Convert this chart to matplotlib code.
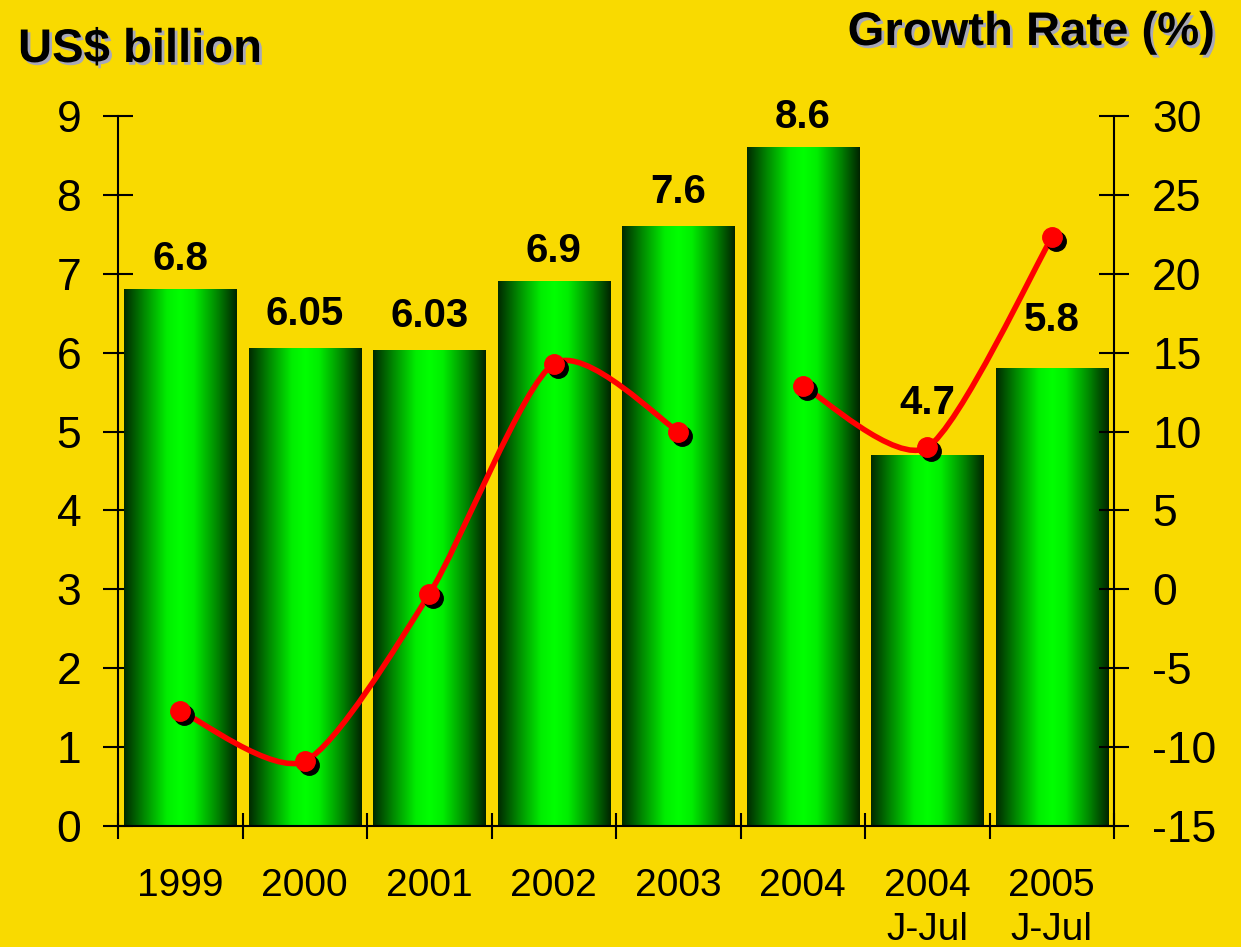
import numpy as np
import matplotlib
matplotlib.use('Agg')
import matplotlib.pyplot as plt
import matplotlib.patheffects as pe
import matplotlib.transforms as mtransforms
from matplotlib.colors import LinearSegmentedColormap
from matplotlib.path import Path
from matplotlib.patches import PathPatch

plt.rcParams['font.family'] = ['Liberation Sans', 'DejaVu Sans']
plt.rcParams['axes.unicode_minus'] = False

# dados
categories = ['1999', '2000', '2001', '2002', '2003', '2004', '2004\nJ-Jul', '2005\nJ-Jul']
values = [6.8, 6.05, 6.03, 6.9, 7.6, 8.6, 4.7, 5.8]
value_labels = ['6.8', '6.05', '6.03', '6.9', '7.6', '8.6', '4.7', '5.8']
growth = [-7.7, -10.9, -0.3, 14.3, 10.0, 12.9, 9.0, 22.3]
# linha quebrada entre 2003 e 2004
growth_segments = [(0, 5), (5, 8)]

bg = '#F9DA00'
label_offsets = [14, 17, 17, 14, 17, 14, 30, 27]


def smooth_path(xs, ys, k=8.0):
    # curva tipo Catmull-Rom passando pelos pontos
    pts = np.column_stack([xs, ys]).astype(float)
    n = len(pts)
    verts = [pts[0]]
    codes = [Path.MOVETO]
    for i in range(n - 1):
        p0 = pts[i - 1] if i > 0 else pts[i]
        p1 = pts[i]
        p2 = pts[i + 1]
        p3 = pts[i + 2] if i + 2 < n else pts[i + 1]
        verts += [p1 + (p2 - p0) / k, p2 - (p3 - p1) / k, p2]
        codes += [Path.CURVE4] * 3
    return Path(verts, codes)


fig = plt.figure(figsize=(12.41, 9.47), dpi=100, facecolor=bg)
ax = fig.add_axes([0.0951, 0.1278, 0.8026, 0.7497])
ax.set_facecolor(bg)

x = np.arange(len(categories))
bars = ax.bar(x, values, width=0.9, color='none', zorder=2)

cmap = LinearSegmentedColormap.from_list('cyl', [
    (0.0, '#002a00'), (0.18, '#008a00'), (0.38, '#00ee00'),
    (0.5, '#00ff00'), (0.62, '#00ee00'), (0.82, '#008a00'), (1.0, '#002400')])
grad = np.linspace(0, 1, 256).reshape(1, -1)
for b in bars:
    ax.imshow(grad, extent=[b.get_x(), b.get_x() + b.get_width(), 0, b.get_height()],
              aspect='auto', cmap=cmap, zorder=2, interpolation='bilinear')

for xi, v, lbl, off in zip(x, values, value_labels, label_offsets):
    ax.annotate(lbl, (xi, v), xytext=(0, off), textcoords='offset points',
                ha='center', va='baseline', fontsize=29, fontweight='bold', zorder=4)

ax.set_xlim(-0.5, 7.5)
ax.set_ylim(0, 9)
ax.set_yticks(range(0, 10))
ax.set_xticks(np.arange(-0.5, 8, 1))
ax.tick_params(axis='x', which='major', direction='inout', length=19, width=1.5, labelbottom=False)
ax.set_xticks(x, minor=True)
ax.set_xticklabels(categories, minor=True, fontsize=28, linespacing=1.3)
ax.tick_params(axis='x', which='minor', length=0, pad=30)
ax.tick_params(axis='y', direction='inout', length=21, width=1.5, labelsize=32, pad=16)
ax.spines['top'].set_visible(False)
ax.spines['right'].set_visible(False)
for s in ['left', 'bottom']:
    ax.spines[s].set_linewidth(1.5)

ax2 = ax.twinx()
ax2.set_ylim(-15, 30)
ax2.set_yticks(range(-15, 31, 5))
ax2.tick_params(axis='y', direction='inout', length=21, width=1.5, labelsize=32, pad=17)
ax2.spines['top'].set_visible(False)
ax2.spines['left'].set_visible(False)
ax2.spines['bottom'].set_visible(False)
ax2.spines['right'].set_linewidth(1.5)

for a, b in growth_segments:
    path = smooth_path(x[a:b], growth[a:b])
    ax2.add_patch(PathPatch(path, fc='none', ec='#ff0000', lw=4, zorder=3,
                            capstyle='round', joinstyle='round'))

shadow = mtransforms.offset_copy(ax2.transData, fig=fig, x=4, y=-4, units='dots')
ax2.plot(x, growth, 'o', color='black', ms=14, transform=shadow, zorder=3)
ax2.plot(x, growth, 'o', color='#ff0000', ms=14, zorder=4)
ax2.set_ylim(-15, 30)
ax2.set_xlim(-0.5, 7.5)

shadow_fx = [pe.SimplePatchShadow(offset=(2, -2), shadow_rgbFace='#a8a8b8', alpha=1), pe.Normal()]
fig.text(18 / 1241, 1 - 62 / 947, 'US$ billion', fontsize=34, fontweight='bold',
         ha='left', va='baseline', path_effects=shadow_fx)
fig.text(1215 / 1241, 1 - 45 / 947, 'Growth Rate (%)', fontsize=34, fontweight='bold',
         ha='right', va='baseline', path_effects=shadow_fx)

fig.savefig('out.png', dpi=100, facecolor=bg)
